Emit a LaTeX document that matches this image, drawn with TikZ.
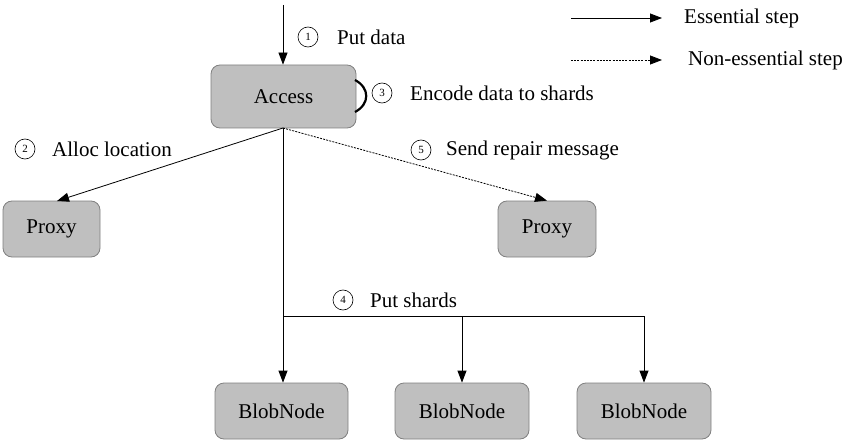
\documentclass[tikz,border=0pt]{standalone}
\usepackage{fontspec}
\setmainfont{Liberation Serif}
\usetikzlibrary{arrows.meta}
\begin{document}
\begin{tikzpicture}[x=1pt,y=-1pt,
  box/.style={draw=black!50,fill=black!25,rounded corners=9pt,line width=0.8pt,font=\fontsize{21}{24}\selectfont},
  lbl/.style={font=\fontsize{21}{24}\selectfont,anchor=west,inner sep=0pt},
  num/.style={draw,circle,line width=0.6pt,minimum size=20pt,inner sep=0pt,font=\fontsize{11}{11}\selectfont},
  arr/.style={line width=0.8pt,-{Triangle[length=12pt,width=9pt]}},
  darr/.style={arr,dash pattern=on 2pt off 1.2pt}]
\useasboundingbox (0,0) rectangle (857,441);
% nodes
\node[box,minimum width=145pt,minimum height=63pt] (access) at (283.5,96.5) {Access};
\node[box,minimum width=97pt,minimum height=56pt] (proxyL) at (51.5,229) {Proxy};
\node[box,minimum width=98pt,minimum height=56pt] (proxyR) at (547,229) {Proxy};
\node[box,minimum width=133pt,minimum height=56pt] (b1) at (281.5,411) {BlobNode};
\node[box,minimum width=134pt,minimum height=56pt] (b2) at (462,411) {BlobNode};
\node[box,minimum width=134pt,minimum height=56pt] (b3) at (644,411) {BlobNode};
% coordinates
\coordinate (in) at (283,5);
\coordinate (ab) at (283,128);
\coordinate (j1) at (283,316);
\coordinate (j2) at (462,316);
\coordinate (j3) at (644,316);
% connectors
\draw[arr] (in) -- (in |- access.north);
\draw[arr] (ab) -- (57,201);
\draw[darr] (ab) -- (proxyR.north);
\draw[arr] (ab) -- (ab |- b1.north);
\draw[line width=0.8pt] (j1) -- (j3);
\draw[arr] (j2) -- (b2.north);
\draw[arr] (j3) -- (b3.north);
% self bracket
\draw[line width=2.2pt] (355,80) .. controls (370,88) and (370,104) .. (355,112);
% step labels
\node[num] (n1) at (308,37) {1};
\node[lbl] (t1) at (337,37) {Put data};
\node[num] (n2) at (25,149) {2};
\node[lbl] (t2) at (52,149) {Alloc location};
\node[num] (n3) at (382,93) {3};
\node[lbl] (t3) at (410,93) {Encode data to shards};
\node[num] (n4) at (343,300) {4};
\node[lbl] (t4) at (370,300) {Put shards};
\node[num] (n5) at (421,150) {5};
\node[lbl] (t5) at (446,150) {Send repair message};
% legend
\coordinate (l1a) at (571,18);
\coordinate (l1b) at (662,18);
\coordinate (l2a) at (571,60);
\coordinate (l2b) at (662,60);
\draw[arr] (l1a) -- (l1b);
\draw[darr] (l2a) -- (l2b);
\node[lbl] (e1) at (684,18) {Essential step};
\node[lbl] (e2) at (688,60) {Non-essential step};
\end{tikzpicture}
\end{document}
